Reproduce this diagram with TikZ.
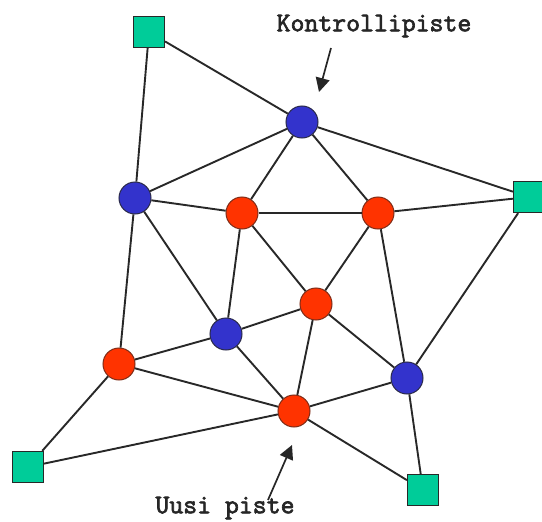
\documentclass[tikz,border=0pt]{standalone}
\usepackage{fontspec}
\newfontfamily\kfont[FakeBold=2.5]{Latin Modern Mono}
\usetikzlibrary{arrows.meta}
\definecolor{gsq}{RGB}{0,204,153}
\definecolor{bci}{RGB}{51,51,204}
\definecolor{rci}{RGB}{255,51,0}
\definecolor{edge}{RGB}{40,40,40}
\tikzset{
  sq/.style={draw=edge, line width=1.2pt, fill=gsq, minimum size=31pt, inner sep=0pt},
  bc/.style={circle, draw=edge!80!bci, line width=1pt, fill=bci, minimum size=32pt, inner sep=0pt},
  rc/.style={circle, draw=edge!60!rci, line width=1pt, fill=rci, minimum size=32pt, inner sep=0pt},
  lnk/.style={draw=edge, line width=1.9pt},
  lbl/.style={font=\fontsize{27}{29}\selectfont\kfont, text=black!85, inner sep=0pt},
  pointer/.style={draw=black!85, line width=1.7pt, -{Triangle[length=14pt,width=14pt]}}
}
\begin{document}
\begin{tikzpicture}[x=1pt,y=-1pt]
\useasboundingbox (0,0) rectangle (542,522);
% nodes
\node[sq] (g1) at (149,32) {};
\node[sq] (g2) at (529,197) {};
\node[sq] (g3) at (28,467) {};
\node[sq] (g4) at (423,490) {};
\node[bc] (b1) at (302,122) {};
\node[bc] (b2) at (135,198) {};
\node[bc] (b3) at (226,334) {};
\node[bc] (b4) at (407,378) {};
\node[rc] (r1) at (242,213) {};
\node[rc] (r2) at (378,213) {};
\node[rc] (r3) at (316,304) {};
\node[rc] (r4) at (119,364) {};
\node[rc] (r5) at (294,411) {};
% edges
\foreach \a/\b in {g1/b1,g1/b2,b1/g2,b1/b2,b1/r1,b1/r2,b2/r1,b2/b3,b2/r4,r1/r2,r1/b3,r1/r3,r2/g2,r2/r3,r2/b4,r3/b3,r3/r5,r3/b4,b3/r4,b3/r5,r4/r5,r4/g3,g3/r5,r5/b4,r5/g4,b4/g4,b4/g2}
  \draw[lnk] (\a) -- (\b);
% labels
\node[lbl] (k) at (374,26) {Kontrollipiste};
\node[lbl] (u) at (225,508) {Uusi piste};
\coordinate (kt) at (331,48);
\coordinate (kh) at (319,92);
\coordinate (ut) at (268,500);
\coordinate (uh) at (292,445);
\draw[pointer] (kt) -- (kh);
\draw[pointer] (ut) -- (uh);
\end{tikzpicture}
\end{document}
